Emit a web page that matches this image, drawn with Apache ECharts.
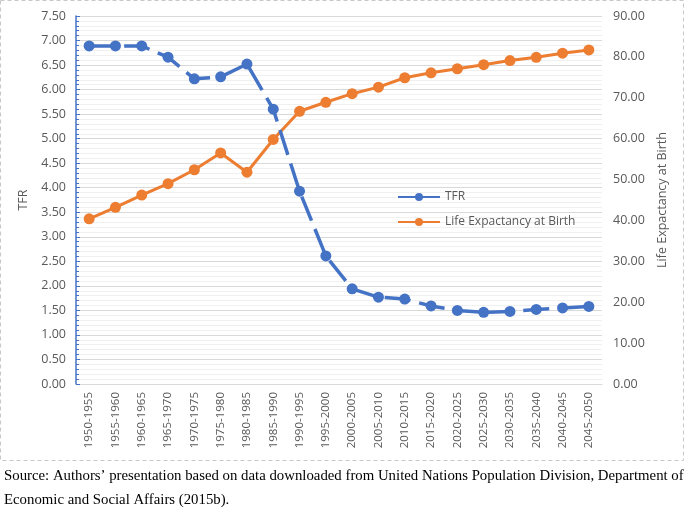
<!DOCTYPE html>
<html>
<head>
<meta charset="utf-8">
<script src="https://cdn.jsdelivr.net/npm/echarts@6/dist/echarts.min.js"></script>
<style>
html,body{margin:0;padding:0;background:#fff;}
#chart{width:685px;height:513px;}
</style>
</head>
<body>
<div id="chart"></div>
<script>
var categories = ["1950-1955","1955-1960","1960-1965","1965-1970","1970-1975","1975-1980","1980-1985","1985-1990","1990-1995","1995-2000","2000-2005","2005-2010","2010-2015","2015-2020","2020-2025","2025-2030","2030-2035","2035-2040","2040-2045","2045-2050"];
var tfr = [6.89,6.89,6.89,6.66,6.22,6.26,6.52,5.60,3.93,2.61,1.94,1.77,1.73,1.59,1.50,1.46,1.48,1.52,1.55,1.58];
var lifeExp = [40.4,43.2,46.2,49.0,52.4,56.5,51.8,59.8,66.7,68.9,71.0,72.6,74.9,76.1,77.1,78.1,79.1,79.9,80.9,81.7];
var sourceLines = ["Source: Authors\u2019 presentation based on data downloaded from United Nations Population Division, Department of","Economic and Social Affairs (2015b)."];
</script>
<script>
var chart = echarts.init(document.getElementById('chart'));
var font = '"Open Sans", "Noto Sans", sans-serif';
var grey = '#595959';
var option = {
  animation: false,
  textStyle: {fontFamily: font},
  grid: {left: 76, right: 83, top: 16, bottom: 129, containLabel: false},
  legend: {
    orient: 'vertical', left: 392, top: 186, itemGap: 13,
    itemWidth: 42, itemHeight: 10,
    lineStyle: {type: 'solid'},
    textStyle: {color: grey, fontSize: 12, fontFamily: font},
    data: ['TFR', 'Life Expactancy at Birth']
  },
  xAxis: {
    type: 'category', data: categories, boundaryGap: true,
    axisLine: {show: true, lineStyle: {color: '#d9d9d9'}},
    axisTick: {show: false},
    axisLabel: {rotate: 90, color: grey, fontSize: 11.5, margin: 8, interval: 0, fontFamily: font}
  },
  yAxis: [{
    type: 'value', min: 0, max: 7.5, interval: 0.5,
    name: 'TFR', nameLocation: 'middle', nameGap: 38, nameRotate: 90,
    nameTextStyle: {color: grey, fontSize: 12.5, fontFamily: font},
    axisLine: {show: true, lineStyle: {color: '#4472C4', width: 1.5}},
    axisTick: {show: true, inside: true, length: 4, lineStyle: {color: '#4472C4'}},
    minorTick: {show: true, splitNumber: 5, length: 3, lineStyle: {color: '#4472C4'}},
    minorSplitLine: {show: true, lineStyle: {color: '#f0f0f0'}},
    splitLine: {show: true, lineStyle: {color: '#d9d9d9'}},
    axisLabel: {color: grey, fontSize: 12.5, margin: 10, fontFamily: font, formatter: function(v){return v.toFixed(2);}}
  }, {
    type: 'value', min: 0, max: 90, interval: 10, position: 'right',
    name: 'Life Expactancy at Birth', nameLocation: 'middle', nameGap: 50, nameRotate: 90,
    nameTextStyle: {color: grey, fontSize: 12.5, fontFamily: font},
    axisLine: {show: false}, axisTick: {show: false}, splitLine: {show: false},
    axisLabel: {color: grey, fontSize: 12.5, margin: 11, fontFamily: font, formatter: function(v){return v.toFixed(2);}}
  }],
  series: [{
    name: 'TFR', type: 'line', yAxisIndex: 0, data: tfr,
    symbol: 'circle', symbolSize: 11,
    lineStyle: {color: '#4472C4', width: 3.5, type: [26, 9]},
    itemStyle: {color: '#4472C4'}, z: 3
  }, {
    name: 'Life Expactancy at Birth', type: 'line', yAxisIndex: 1, data: lifeExp,
    symbol: 'circle', symbolSize: 11,
    lineStyle: {color: '#ED7D31', width: 3},
    itemStyle: {color: '#ED7D31'}, z: 2
  }],
  graphic: [{
    type: 'rect', shape: {x: 0.5, y: 0.5, width: 683, height: 460},
    style: {fill: 'none', stroke: '#c8c8c8', lineWidth: 1, lineDash: [4, 3]}, silent: true
  }, {
    type: 'text', left: 4, top: 469,
    style: {text: sourceLines[0], font: '14.8px "Liberation Serif", "Times New Roman", serif', fill: '#000'}
  }, {
    type: 'text', left: 4, top: 493,
    style: {text: sourceLines[1], font: '14.8px "Liberation Serif", "Times New Roman", serif', fill: '#000'}
  }]
};
chart.setOption(option);
</script>
</body>
</html>
